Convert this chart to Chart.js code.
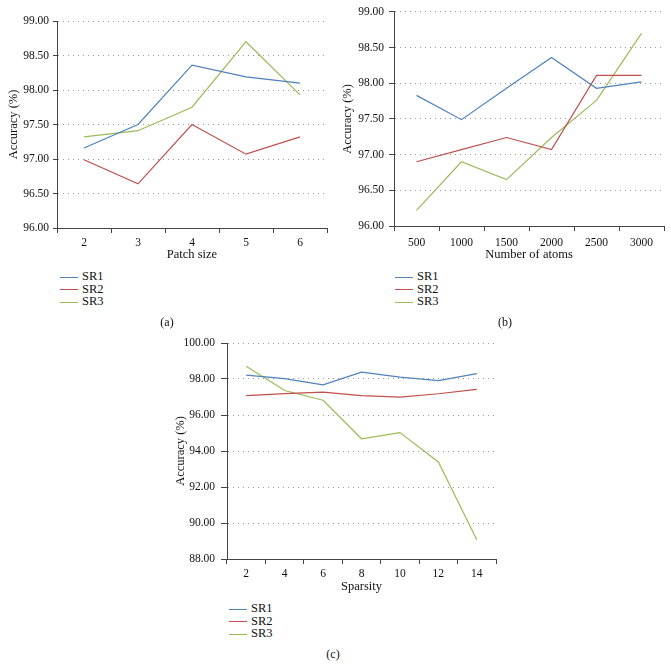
<!DOCTYPE html>
<html>
<head>
<meta charset="utf-8">
<script src="https://cdn.jsdelivr.net/npm/chart.js@4"></script>
<style>
  body { margin: 0; background: #fff; }
  #wrap { position: relative; width: 671px; height: 667px; font-family: "Liberation Serif", serif; color: #111; }
  canvas { position: absolute; }
  .legend { position: absolute; font-size: 12.5px; line-height: 12.5px; }
  .legend div { white-space: nowrap; }
  .legend span.sw { display: inline-block; width: 18px; height: 0; border-top: 1.2px solid; vertical-align: middle; margin-right: 4px; }
  .cap { position: absolute; font-size: 12px; transform: translateX(-50%); }
</style>
</head>
<body>
<div id="wrap">
  <canvas id="chartA" width="335" height="265" style="left:0;top:0"></canvas>
  <canvas id="chartB" width="336" height="265" style="left:335px;top:0"></canvas>
  <canvas id="chartC" width="339" height="280" style="left:165px;top:320px"></canvas>
  <div class="legend" id="legA" style="left:60px;top:270px"></div>
  <div class="legend" id="legB" style="left:395px;top:270px"></div>
  <div class="legend" id="legC" style="left:229px;top:602px"></div>
  <div class="cap" style="left:167px;top:315px">(a)</div>
  <div class="cap" style="left:505px;top:315px">(b)</div>
  <div class="cap" style="left:333px;top:647px">(c)</div>
</div>
<script>
const seriesNames = ['SR1', 'SR2', 'SR3']
const seriesColors = ['#4f81bd', '#c0504d', '#9bbb59']

// (a) patch size
const patchSizes = ['2', '3', '4', '5', '6']
const patchSR1 = [97.16, 97.50, 98.36, 98.19, 98.10]
const patchSR2 = [96.99, 96.64, 97.50, 97.07, 97.32]
const patchSR3 = [97.32, 97.41, 97.75, 98.70, 97.93]

// (b) number of atoms
const atomCounts = ['500', '1000', '1500', '2000', '2500', '3000']
const atomSR1 = [97.83, 97.49, 97.93, 98.36, 97.93, 98.02]
const atomSR2 = [96.90, 97.07, 97.24, 97.07, 98.11, 98.11]
const atomSR3 = [96.22, 96.90, 96.65, 97.24, 97.76, 98.70]

// (c) sparsity
const sparsity = ['2', '4', '6', '8', '10', '12', '14']
const sparSR1 = [98.21, 98.02, 97.67, 98.38, 98.10, 97.91, 98.30]
const sparSR2 = [97.08, 97.19, 97.27, 97.08, 96.99, 97.18, 97.42]
const sparSR3 = [98.71, 97.36, 96.82, 94.68, 95.02, 93.39, 89.07]

Chart.defaults.font.family = '"Liberation Serif", serif'
Chart.defaults.font.size = 11.5
Chart.defaults.color = '#111'

const axisColor = '#444'

function makeChart(id, labels, values, s){
  new Chart(document.getElementById(id), {
    type: 'line',
    data: {
      labels: labels,
      datasets: values.map((v, i) => ({
        label: seriesNames[i],
        data: v,
        borderColor: seriesColors[i],
        borderWidth: 1.2,
        pointRadius: 0,
        tension: 0,
        fill: false
      }))
    },
    options: {
      responsive: false,
      animation: false,
      devicePixelRatio: 1,
      layout: { padding: { top: s.top, right: s.right, left: 0, bottom: 0 } },
      plugins: { legend: { display: false }, tooltip: { enabled: false } },
      scales: {
        x: {
          offset: true,
          grid: { offset: true, drawOnChartArea: false, tickLength: 5, tickColor: axisColor, color: axisColor },
          border: { color: axisColor, width: 1 },
          ticks: { padding: s.xPad, maxRotation: 0 },
          title: { display: true, text: s.xTitle, font: { size: 12.5 }, padding: { top: 0, bottom: s.xTitlePad } },
          afterFit: (scale) => { scale.height = s.xHeight }
        },
        y: {
          min: s.min,
          max: s.max,
          grid: {
            color: (c) => c.tick && c.tick.value === s.min ? 'rgba(0,0,0,0)' : '#9a9a9a',
            tickColor: axisColor,
            tickLength: s.yTick
          },
          border: { color: axisColor, width: 1, dash: [1, 4] },
          ticks: { stepSize: s.step, padding: s.yPad, callback: (v) => v.toFixed(2) },
          title: { display: true, text: 'Accuracy (%)', font: { size: 12.5 }, padding: { top: s.yTitlePad, bottom: 0 } },
          afterFit: (scale) => { scale.width = s.yWidth }
        }
      }
    }
  })
}

makeChart('chartA', patchSizes, [patchSR1, patchSR2, patchSR3], {
  top: 21, right: 8, xHeight: 37, xPad: 3, xTitle: 'Patch size', xTitlePad: 3,
  min: 96, max: 99, step: 0.5, yWidth: 57, yTick: 4, yPad: 4, yTitlePad: 6
})
makeChart('chartB', atomCounts, [atomSR1, atomSR2, atomSR3], {
  top: 11, right: 7, xHeight: 39, xPad: 5, xTitle: 'Number of atoms', xTitlePad: 3,
  min: 96, max: 99, step: 0.5, yWidth: 59, yTick: 5, yPad: 5, yTitlePad: 5
})
makeChart('chartC', sparsity, [sparSR1, sparSR2, sparSR3], {
  top: 23, right: 8, xHeight: 41, xPad: 3, xTitle: 'Sparsity', xTitlePad: 6,
  min: 88, max: 100, step: 2, yWidth: 62, yTick: 6, yPad: 6, yTitlePad: 8
})

function makeLegend(id){
  const el = document.getElementById(id)
  seriesNames.forEach((n, i) => {
    const row = document.createElement('div')
    const sw = document.createElement('span')
    sw.className = 'sw'
    sw.style.borderColor = seriesColors[i]
    row.appendChild(sw)
    row.appendChild(document.createTextNode(n))
    el.appendChild(row)
  })
}
makeLegend('legA')
makeLegend('legB')
makeLegend('legC')
</script>
</body>
</html>
